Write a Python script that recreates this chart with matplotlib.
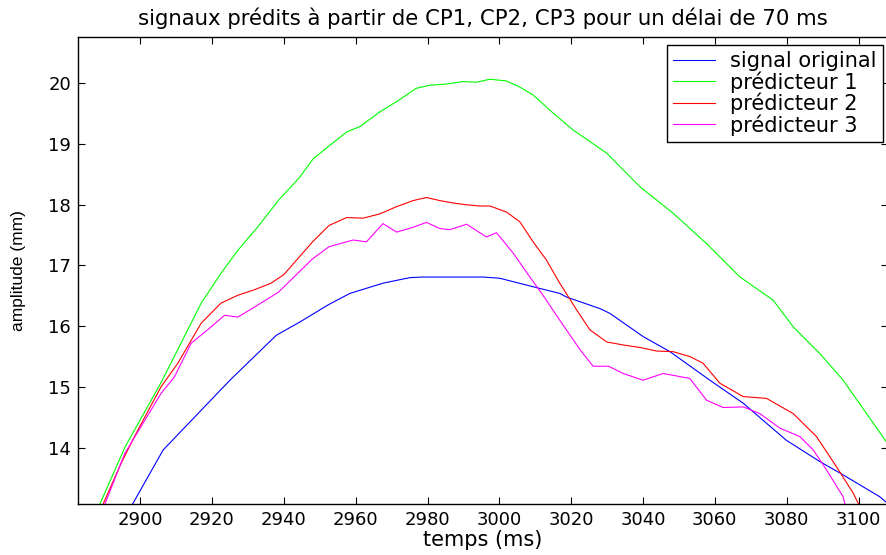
import matplotlib.pyplot as plt

plt.rcParams['font.family'] = ['DejaVu Sans']

# signal original
t_orig = [2897.0, 2897.9, 2906.4, 2925.0, 2937.9, 2944.5, 2952.3, 2958.4, 2967.7, 2975.1,
          2978.8, 2995.5, 3000.1, 3009.4, 3016.8, 3018.7, 3028.0, 3030.8, 3040.0, 3047.5,
          3058.6, 3067.9, 3079.9, 3089.2, 3095.7, 3105.9, 3108.5]
a_orig = [12.9, 13.07, 13.96, 15.11, 15.85, 16.07, 16.35, 16.54, 16.71, 16.80,
          16.81, 16.81, 16.79, 16.65, 16.54, 16.48, 16.29, 16.21, 15.83, 15.58,
          15.11, 14.73, 14.12, 13.77, 13.55, 13.19, 13.06]

# predicteur 1
t_p1 = [2888.0, 2888.8, 2895.8, 2906.0, 2917.0, 2922.5, 2927.2, 2932.8, 2938.6, 2944.5,
        2948.2, 2952.8, 2957.5, 2961.2, 2966.7, 2971.4, 2976.9, 2980.6, 2985.3, 2989.9,
        2993.7, 2997.4, 3002.0, 3005.7, 3009.4, 3015.0, 3020.6, 3029.9, 3039.1, 3048.4,
        3057.7, 3067.0, 3076.2, 3081.8, 3089.2, 3095.7, 3108.5]
a_p1 = [12.9, 13.07, 14.01, 15.09, 16.38, 16.87, 17.25, 17.64, 18.08, 18.46,
        18.76, 18.98, 19.20, 19.29, 19.53, 19.70, 19.92, 19.97, 19.99, 20.03,
        20.02, 20.07, 20.04, 19.94, 19.81, 19.51, 19.23, 18.85, 18.30, 17.86,
        17.36, 16.81, 16.43, 15.99, 15.55, 15.11, 14.03]

# predicteur 2
t_p2 = [2889.0, 2889.7, 2894.7, 2898.4, 2905.8, 2910.5, 2917.0, 2922.5, 2927.2, 2931.8,
        2936.5, 2940.0, 2948.0, 2952.6, 2957.5, 2962.1, 2966.7, 2971.4, 2976.0, 2979.7,
        2983.4, 2987.1, 2990.9, 2994.6, 2997.4, 3002.0, 3005.7, 3009.4, 3013.1, 3016.8,
        3021.5, 3025.2, 3029.9, 3034.5, 3039.1, 3043.8, 3048.4, 3053.0, 3056.7, 3061.4,
        3067.9, 3074.4, 3081.8, 3088.3, 3093.9, 3098.5, 3100.0, 3100.8]
a_p2 = [12.9, 13.07, 13.74, 14.18, 15.00, 15.39, 16.05, 16.38, 16.51, 16.60,
        16.71, 16.85, 17.39, 17.66, 17.79, 17.78, 17.85, 17.97, 18.07, 18.12,
        18.07, 18.03, 18.00, 17.98, 17.98, 17.88, 17.72, 17.39, 17.09, 16.71,
        16.27, 15.94, 15.74, 15.69, 15.65, 15.59, 15.58, 15.50, 15.39, 15.06,
        14.84, 14.81, 14.56, 14.18, 13.68, 13.25, 13.07, 12.9]

# predicteur 3
t_p3 = [2889.5, 2890.2, 2895.7, 2905.8, 2909.6, 2914.2, 2919.8, 2923.5, 2927.2, 2932.8,
        2938.5, 2948.0, 2952.6, 2959.3, 2963.0, 2967.6, 2971.4, 2976.0, 2979.7, 2983.4,
        2986.2, 2990.9, 2996.4, 2999.2, 3003.9, 3008.5, 3012.5, 3016.8, 3022.5, 3026.1,
        3030.4, 3034.5, 3040.0, 3045.6, 3053.0, 3057.7, 3062.3, 3067.9, 3072.5, 3078.1,
        3083.7, 3087.4, 3091.1, 3095.7, 3096.2, 3096.6]
a_p3 = [12.9, 13.07, 13.90, 14.89, 15.17, 15.72, 15.99, 16.18, 16.15, 16.35,
        16.56, 17.11, 17.31, 17.42, 17.39, 17.69, 17.55, 17.63, 17.71, 17.61,
        17.59, 17.68, 17.47, 17.54, 17.20, 16.81, 16.48, 16.10, 15.61, 15.34,
        15.34, 15.22, 15.11, 15.22, 15.14, 14.78, 14.66, 14.67, 14.56, 14.32,
        14.18, 13.96, 13.63, 13.19, 13.07, 12.9]

fig = plt.figure(figsize=(8.87, 5.55), dpi=100)
# right spine sits just past the canvas edge
ax = fig.add_axes([78 / 887, 1 - 504 / 555, 810 / 887, 466.7 / 555])

lw = 0.8
ax.plot(t_orig, a_orig, color='#0000ff', lw=lw, label='signal original')
ax.plot(t_p1, a_p1, color='#00ff00', lw=lw, label='prédicteur 1')
ax.plot(t_p2, a_p2, color='#ff0000', lw=lw, label='prédicteur 2')
ax.plot(t_p3, a_p3, color='#ff00ff', lw=lw, label='prédicteur 3')

ax.set_xlim(2882.7, 3108.2)
ax.set_ylim(13.07, 20.76)
ax.set_xticks(range(2900, 3101, 20))
ax.set_yticks(range(14, 21))

ax.tick_params(direction='in', length=5, width=0.8, labelsize=13, top=True, right=True, pad=5)
for s in ax.spines.values():
    s.set_linewidth(1.0)

ax.set_title('signaux prédits à partir de CP1, CP2, CP3 pour un délai de 70 ms',
             fontsize=15.3, pad=9)
ax.set_xlabel('temps (ms)', fontsize=15, labelpad=1)
ax.set_ylabel('amplitude (mm)', fontsize=12.5, labelpad=16, family='Liberation Sans')

leg = ax.legend(loc='upper right', bbox_to_anchor=(883 / 887, 1 - 45 / 555),
                bbox_transform=fig.transFigure, borderaxespad=0, fontsize=15,
                fancybox=False, framealpha=1, edgecolor='black',
                handlelength=2.0, handletextpad=0.75, labelspacing=0.0,
                borderpad=0.3)
leg.get_frame().set_linewidth(1.0)

fig.savefig('out.png', dpi=100)
